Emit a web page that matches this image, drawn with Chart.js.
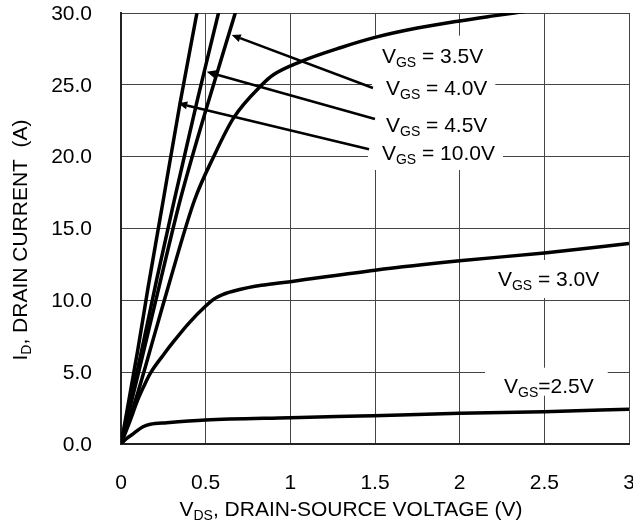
<!DOCTYPE html>
<html>
<head>
<meta charset="utf-8">
<script src="https://cdn.jsdelivr.net/npm/chart.js@4.4.0/dist/chart.umd.min.js"></script>
<style>
  html, body { margin: 0; padding: 0; background: #fff; }
  canvas { display: block; }
</style>
</head>
<body>
<canvas id="chart" width="633" height="520"></canvas>
<script>
// ID (A) vs VDS (V), one pair of arrays per gate voltage
const vds25 = [0, 0.03, 0.075, 0.13, 0.173, 0.27, 0.5, 1.0, 1.41, 1.65, 2.0, 2.5, 3.0];
const id25  = [0, 0.35, 0.74, 1.2, 1.37, 1.48, 1.67, 1.83, 1.95, 2.02, 2.14, 2.25, 2.42];

const vds30 = [0, 0.05, 0.1, 0.134, 0.173, 0.25, 0.31, 0.4, 0.5, 0.55, 0.6, 0.7, 0.8, 0.9, 1.0, 1.5, 2.0, 2.5, 3.0];
const id30  = [0, 1.5, 3.1, 4.0, 4.92, 6.2, 7.12, 8.4, 9.6, 10.1, 10.4, 10.75, 11.0, 11.15, 11.3, 12.1, 12.75, 13.3, 13.95];

const vds35 = [0, 0.1, 0.2, 0.29, 0.435, 0.547, 0.665, 0.832, 0.9, 1.058, 1.3, 1.5, 1.75, 2.0, 2.2, 2.35, 2.5];
const id35  = [0, 3.6, 7.7, 11.4, 17.0, 20.0, 22.7, 25.0, 25.7, 26.6, 27.6, 28.3, 28.95, 29.45, 29.8, 30.05, 30.3];

const vds40 = [0, 0.1, 0.23, 0.35, 0.5, 0.68];
const id40  = [0, 4.8, 11.2, 17.0, 23.2, 30.2];

const vds45 = [0, 0.1, 0.21, 0.315, 0.45, 0.58];
const id45  = [0, 5.3, 11.4, 17.0, 23.9, 30.2];

const vds100 = [0, 0.1, 0.16, 0.25, 0.35, 0.45];
const id100  = [0, 6.6, 10.9, 17.0, 23.8, 30.1];

const xTickValues = [0, 0.5, 1, 1.5, 2, 2.5, 3];
const xTickLabels = ['0', '0.5', '1', '1.5', '2', '2.5', '3'];
const yTickValues = [0, 5, 10, 15, 20, 25, 30];
const yTickLabels = ['0.0', '5.0', '10.0', '15.0', '20.0', '25.0', '30.0'];

// curve labels: [main, subscript, rest], left edge / baseline in data units
const labelParts = [
    ['V', 'GS', ' = 3.5V'],
    ['V', 'GS', ' = 4.0V'],
    ['V', 'GS', ' = 4.5V'],
    ['V', 'GS', ' = 10.0V'],
    ['V', 'GS', ' = 3.0V'],
    ['V', 'GS', '=2.5V']
];
const labelX = [1.541, 1.565, 1.565, 1.541, 2.226, 2.262];
const labelY = [26.54, 24.29, 21.74, 19.77, 11.0, 3.57];
// white box round each label (px): left, right, top, bottom
const labelBox = [
    [14, 8, 27, 10],
    [14, 8, 27, 10],
    [14, 8, 27, 10],
    [14, 8, 27, 10],
    [8, 8, 26, 12],
    [19, 14, 25, 3]
];

// arrows from label to curve, data units
const arrowFromX = [1.488, 1.5, 1.465];
const arrowFromY = [24.78, 22.62, 20.51];
const arrowToX = [0.654, 0.506, 0.338];
const arrowToY = [28.47, 25.91, 23.71];

const FONT = '"Liberation Sans", Arial, Helvetica, sans-serif';
const MAIN = '21px ' + FONT;
const SUB = '14px ' + FONT;

function pts(xs, ys) {
    return xs.map((x, i) => ({ x: x, y: ys[i] }));
}

function richWidth(ctx, parts) {
    let w = 0;
    parts.forEach((p, i) => {
        ctx.font = i === 1 ? SUB : MAIN;
        w += ctx.measureText(p).width;
    });
    return w;
}

function drawRich(ctx, parts, x, y) {
    ctx.textAlign = 'left';
    ctx.textBaseline = 'alphabetic';
    ctx.fillStyle = '#000';
    let cx = x;
    parts.forEach((p, i) => {
        ctx.font = i === 1 ? SUB : MAIN;
        ctx.fillText(p, cx, i === 1 ? y + 4 : y);
        cx += ctx.measureText(p).width;
    });
}

const annotations = {
    id: 'annotations',
    beforeDatasetsDraw(chart) {
        const ctx = chart.ctx;
        const xs = chart.scales.x, ys = chart.scales.y;
        ctx.save();
        labelParts.forEach((parts, i) => {
            const px = xs.getPixelForValue(labelX[i]);
            const py = ys.getPixelForValue(labelY[i]);
            const w = richWidth(ctx, parts);
            const b = labelBox[i];
            ctx.fillStyle = '#fff';
            ctx.fillRect(px - b[0], py - b[2], w + b[0] + b[1], b[2] + b[3]);
        });
        labelParts.forEach((parts, i) => {
            drawRich(ctx, parts, xs.getPixelForValue(labelX[i]), ys.getPixelForValue(labelY[i]));
        });
        ctx.restore();
    },
    afterDatasetsDraw(chart) {
        const ctx = chart.ctx;
        const xs = chart.scales.x, ys = chart.scales.y;
        ctx.save();
        ctx.strokeStyle = '#000';
        ctx.fillStyle = '#000';
        ctx.lineWidth = 2.5;
        arrowFromX.forEach((fx, i) => {
            const x0 = xs.getPixelForValue(fx), y0 = ys.getPixelForValue(arrowFromY[i]);
            const x1 = xs.getPixelForValue(arrowToX[i]), y1 = ys.getPixelForValue(arrowToY[i]);
            const a = Math.atan2(y1 - y0, x1 - x0);
            const len = 9, half = 4;
            const bx = x1 - len * Math.cos(a), by = y1 - len * Math.sin(a);
            ctx.beginPath();
            ctx.moveTo(x0, y0);
            ctx.lineTo(bx, by);
            ctx.stroke();
            ctx.beginPath();
            ctx.moveTo(x1, y1);
            ctx.lineTo(bx + half * Math.sin(a), by - half * Math.cos(a));
            ctx.lineTo(bx - half * Math.sin(a), by + half * Math.cos(a));
            ctx.closePath();
            ctx.fill();
        });
        ctx.restore();
    },
    afterDraw(chart) {
        const ctx = chart.ctx;
        const xs = chart.scales.x, ys = chart.scales.y;
        ctx.save();
        ctx.font = MAIN;
        ctx.fillStyle = '#000';
        // x tick labels (the last one may run off the canvas, as in the original)
        ctx.textAlign = 'center';
        ctx.textBaseline = 'alphabetic';
        xTickValues.forEach((v, i) => {
            ctx.fillText(xTickLabels[i], xs.getPixelForValue(v), 489);
        });
        // y tick labels
        ctx.textAlign = 'right';
        ctx.textBaseline = 'middle';
        yTickValues.forEach((v, i) => {
            ctx.fillText(yTickLabels[i], 92, ys.getPixelForValue(v) + 1);
        });
        // x title
        const xt = ['V', 'DS', ', DRAIN-SOURCE VOLTAGE (V)'];
        drawRich(ctx, xt, 351 - richWidth(ctx, xt) / 2, 516);
        // y title
        const yt = ['I', 'D', ', DRAIN CURRENT  (A)'];
        ctx.translate(27, 240);
        ctx.rotate(-Math.PI / 2);
        drawRich(ctx, yt, -richWidth(ctx, yt) / 2, 0);
        ctx.restore();
    }
};

function curve(xs, ys) {
    return {
        data: pts(xs, ys),
        borderColor: '#000',
        borderWidth: 3.5,
        pointRadius: 0,
        showLine: true,
        fill: false,
        tension: 0.4,
        cubicInterpolationMode: 'monotone',
        clip: 0
    };
}

new Chart('chart', {
    type: 'scatter',
    data: {
        datasets: [
            curve(vds25, id25),
            curve(vds30, id30),
            curve(vds35, id35),
            curve(vds40, id40),
            curve(vds45, id45),
            curve(vds100, id100)
        ]
    },
    options: {
        responsive: false,
        animation: false,
        layout: { padding: { top: 13, right: 4, left: 0, bottom: 0 } },
        plugins: {
            legend: { display: false },
            tooltip: { enabled: false }
        },
        scales: {
            x: {
                type: 'linear',
                min: 0,
                max: 3,
                ticks: { stepSize: 0.5, display: false },
                grid: { color: '#444', lineWidth: 1, drawTicks: false },
                border: { color: '#222', width: 2 },
                afterFit: (scale) => { scale.height = 76; }
            },
            y: {
                min: 0,
                max: 30,
                ticks: { stepSize: 5, display: false },
                grid: { color: '#444', lineWidth: 1, drawTicks: false },
                border: { color: '#222', width: 2 },
                afterFit: (scale) => { scale.width = 121; }
            }
        }
    },
    plugins: [annotations]
});
</script>
</body>
</html>
